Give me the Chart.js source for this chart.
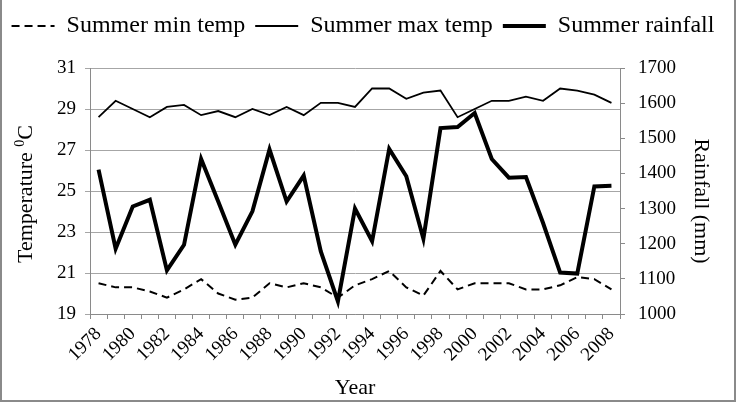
<!DOCTYPE html>
<html>
<head>
<meta charset="utf-8">
<script src="https://cdn.jsdelivr.net/npm/chart.js@4.4.1/dist/chart.umd.min.js"></script>
<style>
  html, body { margin: 0; padding: 0; background: #fff; }
  #wrap { position: relative; width: 740px; height: 402px; overflow: hidden; }
  canvas { position: absolute; left: 0; top: 0; }
  .bd { position: absolute; background: #8a8a8a; }
</style>
</head>
<body>
<div id="wrap">
  <canvas id="c" width="740" height="402"></canvas>
  <div class="bd" style="left:0;top:0;width:2px;height:402px"></div>
  <div class="bd" style="left:734px;top:0;width:2px;height:402px"></div>
  <div class="bd" style="left:0;top:400px;width:736px;height:2px"></div>
</div>
<script>
const years = ['1978','1979','1980','1981','1982','1983','1984','1985','1986','1987',
  '1988','1989','1990','1991','1992','1993','1994','1995','1996','1997',
  '1998','1999','2000','2001','2002','2003','2004','2005','2006','2007','2008'];

const minTemp = [20.5,20.3,20.3,20.1,19.8,20.2,20.7,20.0,19.7,19.8,
  20.5,20.3,20.5,20.3,19.8,20.4,20.7,21.1,20.3,19.9,
  21.1,20.2,20.5,20.5,20.5,20.2,20.2,20.4,20.8,20.7,20.2];

const maxTemp = [28.6,29.4,29.0,28.6,29.1,29.2,28.7,28.9,28.6,29.0,
  28.7,29.1,28.7,29.3,29.3,29.1,30.0,30.0,29.5,29.8,
  29.9,28.6,29.0,29.4,29.4,29.6,29.4,30.0,29.9,29.7,29.3];

const rainfall = [1411,1186,1306,1325,1124,1197,1441,1320,1197,1292,
  1468,1320,1394,1178,1036,1300,1207,1470,1392,1214,
  1529,1532,1572,1441,1388,1390,1259,1118,1115,1363,1365];

const seriesNames = ['Summer min temp', 'Summer max temp', 'Summer rainfall'];
const tempTicks = [19, 21, 23, 25, 27, 29, 31];
const rainTicks = [1000, 1100, 1200, 1300, 1400, 1500, 1600, 1700];
const leftTitle = ['Temperature ', '0', 'C'];
const rightTitle = 'Rainfall (mm)';
const xTitle = 'Year';

const FONT = "'Liberation Serif', 'Times New Roman', serif";
Chart.defaults.font.family = FONT;
Chart.defaults.color = '#000';

const legendFix = {
  id: 'legendFix',
  afterInit(chart) {
    const lg = chart.legend;
    const f = lg.fit.bind(lg);
    lg.fit = function () { f(); this.height = 64; };
  }
};

const axisTitles = {
  id: 'axisTitles',
  afterDraw(chart) {
    const ctx = chart.ctx;
    const area = chart.chartArea;
    ctx.save();
    ctx.fillStyle = '#000';
    ctx.textBaseline = 'middle';
    ctx.textAlign = 'left';
    const big = '22px ' + FONT, small = '14px ' + FONT;
    ctx.font = big; const w1 = ctx.measureText(leftTitle[0]).width; const w3 = ctx.measureText(leftTitle[2]).width;
    ctx.font = small; const w2 = ctx.measureText(leftTitle[1]).width;
    const tot = w1 + w2 + w3;
    const cy = (area.top + area.bottom) / 2 + 3;
    ctx.save();
    ctx.translate(26, cy);
    ctx.rotate(-Math.PI / 2);
    let x = -tot / 2;
    ctx.font = big; ctx.fillText(leftTitle[0], x, 0); x += w1;
    ctx.font = small; ctx.fillText(leftTitle[1], x, -6); x += w2;
    ctx.font = big; ctx.fillText(leftTitle[2], x, 0);
    ctx.restore();
    ctx.save();
    ctx.translate(701, (area.top + area.bottom) / 2 + 10);
    ctx.rotate(Math.PI / 2);
    ctx.font = big;
    ctx.textAlign = 'center';
    ctx.fillText(rightTitle, 0, 0);
    ctx.restore();
    ctx.restore();
  }
};

new Chart(document.getElementById('c'), {
  type: 'line',
  data: {
    labels: years,
    datasets: [
      { label: seriesNames[0], data: minTemp, yAxisID: 'y', borderColor: '#000', backgroundColor: '#000',
        borderWidth: 2, borderDash: [8, 5], pointRadius: 0, tension: 0 },
      { label: seriesNames[1], data: maxTemp, yAxisID: 'y', borderColor: '#000', backgroundColor: '#000',
        borderWidth: 1.8, pointRadius: 0, tension: 0 },
      { label: seriesNames[2], data: rainfall, yAxisID: 'y2', borderColor: '#000', backgroundColor: '#000',
        borderWidth: 4, pointRadius: 0, tension: 0 }
    ]
  },
  options: {
    responsive: false,
    animation: false,
    devicePixelRatio: 1,
    layout: { padding: { top: 4, left: -10, right: 4, bottom: 0 } },
    plugins: {
      legend: {
        position: 'top',
        labels: {
          usePointStyle: true,
          pointStyleWidth: 43,
          boxHeight: 24,
          padding: 10,
          font: { size: 24 },
          color: '#000',
          generateLabels(chart) {
            return chart.data.datasets.map((ds, i) => ({
              text: ds.label, datasetIndex: i, hidden: false,
              fillStyle: '#000', strokeStyle: '#000', fontColor: '#000',
              lineWidth: ds.borderWidth, lineDash: ds.borderDash || [],
              lineCap: 'butt', pointStyle: 'line'
            }));
          }
        }
      },
      tooltip: { enabled: false }
    },
    scales: {
      x: {
        type: 'category',
        offset: true,
        grid: { display: true, drawOnChartArea: false, drawTicks: true, tickLength: 5, offset: true, color: '#8a8a8a' },
        border: { color: '#8a8a8a' },
        ticks: {
          autoSkip: false, minRotation: 45, maxRotation: 45, padding: 4,
          font: { size: 19 }, color: '#000',
          callback: function (v, i) { const y = years[i]; return (+y % 2 === 0) ? y : ''; }
        },
        title: { display: true, text: xTitle, font: { size: 22 }, color: '#000', padding: { top: 0, bottom: 1 } },
        afterFit(s) { s.height = 88; }
      },
      y: {
        position: 'left',
        min: tempTicks[0], max: tempTicks[tempTicks.length - 1],
        afterBuildTicks(s) { s.ticks = tempTicks.map(v => ({ value: v })); },
        grid: { color: '#a6a6a6', tickLength: 5, drawTicks: true },
        border: { color: '#8a8a8a' },
        ticks: { font: { size: 19 }, color: '#000', padding: 9, callback: v => String(v) },
        afterFit(s) { s.width = 100; }
      },
      y2: {
        position: 'right',
        min: rainTicks[0], max: rainTicks[rainTicks.length - 1],
        afterBuildTicks(s) { s.ticks = rainTicks.map(v => ({ value: v })); },
        grid: { drawOnChartArea: false, color: '#8a8a8a', tickLength: 5, drawTicks: true },
        border: { color: '#8a8a8a' },
        ticks: { font: { size: 19 }, color: '#000', padding: 13, callback: v => String(v) },
        afterFit(s) { s.width = 116; }
      }
    }
  },
  plugins: [legendFix, axisTitles]
});
</script>
</body>
</html>
